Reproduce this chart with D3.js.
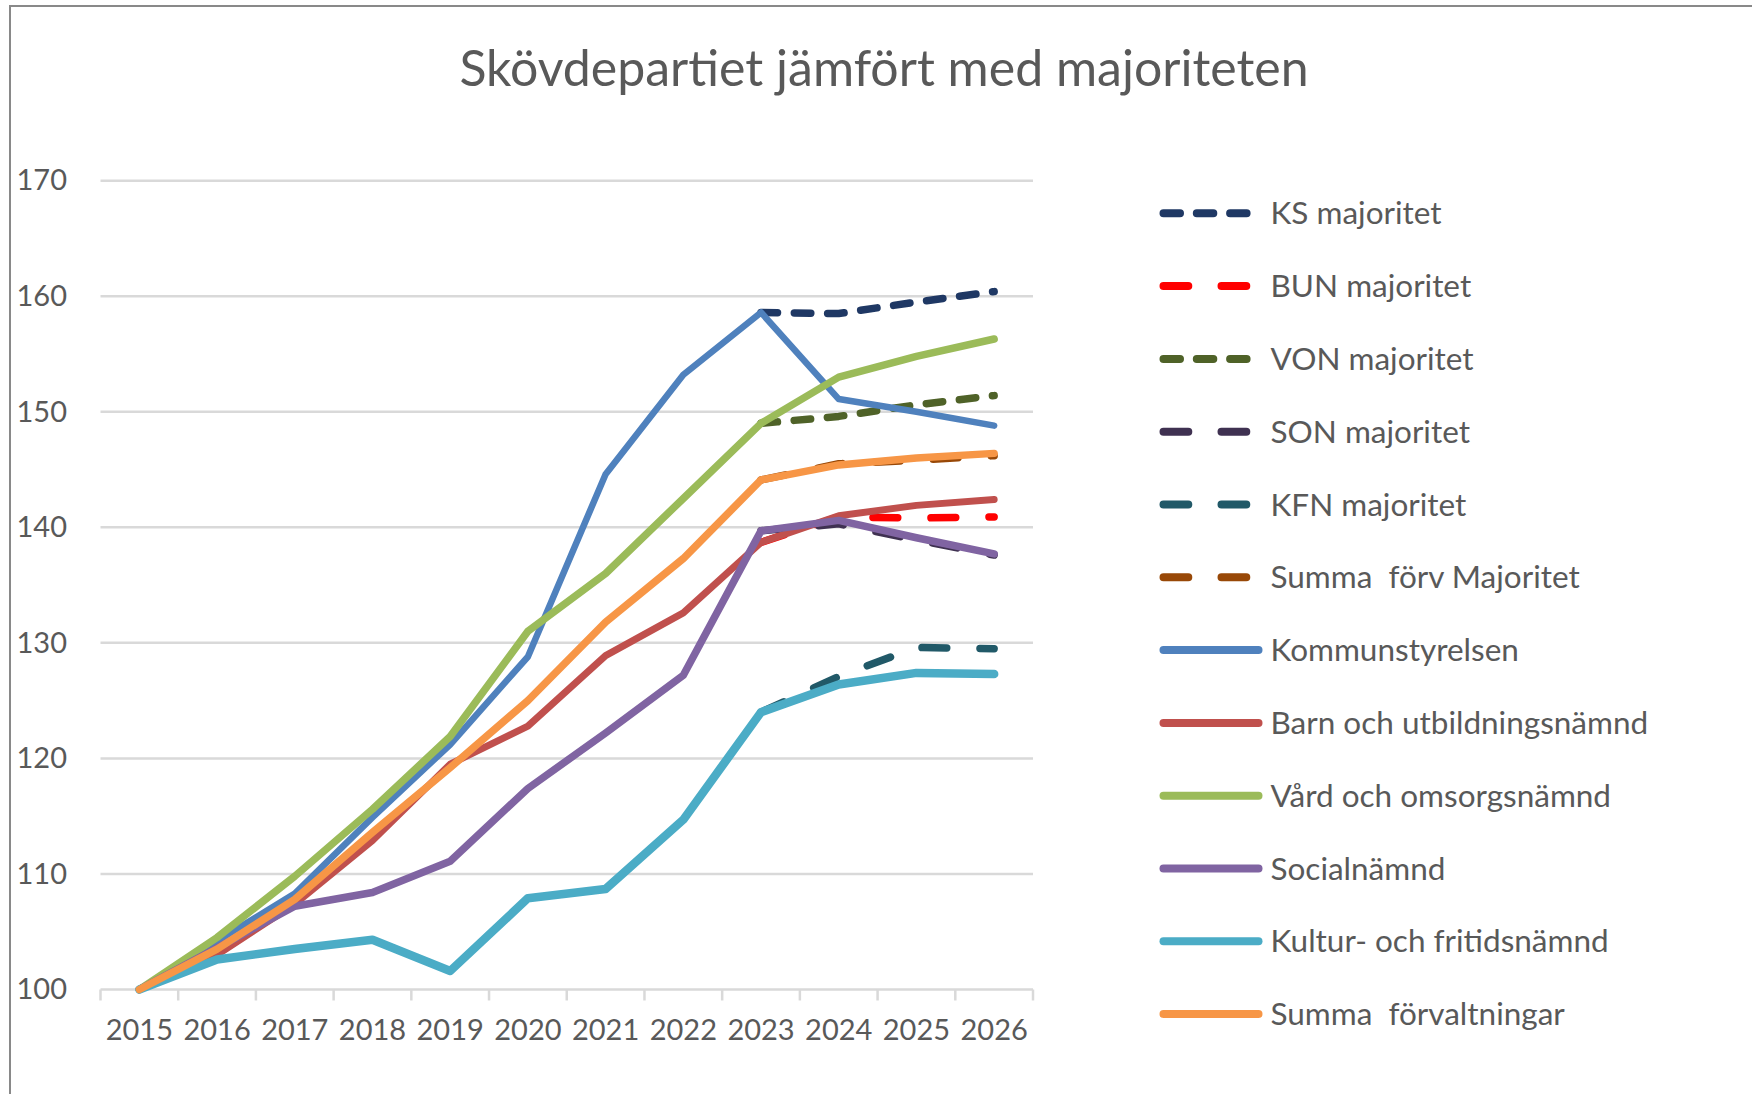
<!DOCTYPE html>
<html>
<head>
<meta charset="utf-8">
<script src="https://cdn.jsdelivr.net/npm/d3@7"></script>
<style>
    body { margin: 0; background: #fff; }
    svg { display: block; font-family: Lato, 'Open Sans', sans-serif; }
</style>
</head>
<body>
<svg id="chart" width="1752" height="1094"></svg>
<script>
// Categories and tick labels
const years = ['2015', '2016', '2017', '2018', '2019', '2020', '2021', '2022', '2023', '2024', '2025', '2026'];
const yTicks = [100, 110, 120, 130, 140, 150, 160, 170];

// Actual values (index, 2015 = 100)
const kommunstyrelsen = [100, 104.2, 108.3, 114.9, 121.2, 128.8, 144.6, 153.2, 158.6, 151.1, 150.0, 148.8];
const barnUtbildning  = [100, 103.0, 107.4, 112.9, 119.5, 122.8, 128.9, 132.6, 138.7, 141.0, 141.9, 142.4];
const vardOmsorg      = [100, 104.5, 109.8, 115.6, 121.9, 131.0, 136.0, 142.5, 149.0, 153.0, 154.8, 156.3];
const socialnamnd     = [100, 103.6, 107.2, 108.4, 111.1, 117.4, 122.2, 127.2, 139.7, 140.6, 139.1, 137.7];
const kulturFritid    = [100, 102.6, 103.5, 104.3, 101.6, 107.9, 108.7, 114.7, 124.0, 126.4, 127.4, 127.3];
const summaForv       = [100, 103.5, 107.8, 113.6, 119.2, 125.0, 131.8, 137.3, 144.1, 145.4, 146.0, 146.4];

// Majority proposals, 2023 - 2026
const majYears   = ['2023', '2024', '2025', '2026'];
const ksMaj      = [158.6, 158.5, 159.5, 160.4];
const bunMaj     = [138.7, 140.9, 140.8, 140.9];
const vonMaj     = [149.0, 149.6, 150.6, 151.4];
const sonMaj     = [139.7, 140.3, 138.9, 137.6];
const kfnMaj     = [124.0, 127.1, 129.6, 129.5];
const summaMaj   = [144.1, 145.5, 145.8, 146.2];

// dash styles: short dash and long dash (visible lengths tuned for round caps)
const shortDash = '16.5,16.8';
const longDash  = '24.8,33.2';

// Series list in Excel draw order (dashed first, solid on top)
const series = [
    { name: 'KS majoritet',          x: majYears, values: ksMaj,    color: '#1F3864', width: 7.5, dash: shortDash },
    { name: 'BUN majoritet',         x: majYears, values: bunMaj,   color: '#FF0000', width: 7.5, dash: longDash },
    { name: 'VON majoritet',         x: majYears, values: vonMaj,   color: '#4F6228', width: 7.5, dash: shortDash },
    { name: 'SON majoritet',         x: majYears, values: sonMaj,   color: '#3F3151', width: 7.5, dash: longDash },
    { name: 'KFN majoritet',         x: majYears, values: kfnMaj,   color: '#215968', width: 7.5, dash: longDash },
    { name: 'Summa  förv Majoritet', x: majYears, values: summaMaj, color: '#984807', width: 7.5, dash: longDash },
    { name: 'Kommunstyrelsen',             x: years, values: kommunstyrelsen, color: '#4F81BD', width: 6.5, dash: null },
    { name: 'Barn och utbildningsnämnd',   x: years, values: barnUtbildning,  color: '#C0504D', width: 7,   dash: null },
    { name: 'Vård och omsorgsnämnd',       x: years, values: vardOmsorg,      color: '#9BBB59', width: 7.5, dash: null },
    { name: 'Socialnämnd',                 x: years, values: socialnamnd,     color: '#8064A2', width: 7.5, dash: null },
    { name: 'Kultur- och fritidsnämnd',    x: years, values: kulturFritid,    color: '#4BACC6', width: 8.5, dash: null },
    { name: 'Summa  förvaltningar',        x: years, values: summaForv,       color: '#F79646', width: 7.5, dash: null }
];

const svg = d3.select('#chart');
const textColor = '#595959';
const gridColor = '#D9D9D9';

// Outer chart frame (runs off the right and bottom edge)
svg.append('rect')
    .attr('x', 10).attr('y', 6)
    .attr('width', 1800).attr('height', 1200)
    .attr('fill', 'none')
    .attr('stroke', '#898989')
    .attr('stroke-width', 2);

// Title
svg.append('text')
    .attr('x', 884).attr('y', 86)
    .attr('text-anchor', 'middle')
    .attr('fill', textColor)
    .attr('font-size', 50)
    .text('Skövdepartiet jämfört med majoriteten');

// Scales
const x = d3.scaleBand().domain(years).range([100.5, 1033]);
const cx = d => x(d) + x.bandwidth() / 2;
const y = d3.scaleLinear().domain([100, 170]).range([989.5, 180.7]);

// Horizontal gridlines
svg.append('g')
    .selectAll('line')
    .data(yTicks)
    .join('line')
    .attr('x1', 100.5).attr('x2', 1033)
    .attr('y1', d => y(d)).attr('y2', d => y(d))
    .attr('stroke', gridColor)
    .attr('stroke-width', 2.5);

// Y axis labels
const yAxis = svg.append('g')
    .attr('transform', 'translate(67,0)')
    .call(d3.axisLeft(y).tickValues(yTicks).tickSize(0).tickPadding(0));
yAxis.select('.domain').remove();
yAxis.selectAll('text')
    .attr('fill', textColor)
    .attr('font-size', 29)
    .attr('font-family', 'Lato, sans-serif');

// X axis: tick marks sit between categories, as in Excel
const boundaries = years.map(d => x(d)).concat([x(years[years.length - 1]) + x.bandwidth()]);
svg.append('g')
    .selectAll('line')
    .data(boundaries)
    .join('line')
    .attr('x1', d => d).attr('x2', d => d)
    .attr('y1', y(100)).attr('y2', y(100) + 11)
    .attr('stroke', gridColor)
    .attr('stroke-width', 2.5);

const xAxis = svg.append('g')
    .attr('transform', `translate(0,${y(100)})`)
    .call(d3.axisBottom(x).tickSize(0).tickPadding(30));
xAxis.select('.domain').remove();
xAxis.selectAll('text')
    .attr('fill', textColor)
    .attr('font-size', 29)
    .attr('font-family', 'Lato, sans-serif');

// Lines
const line = d3.line()
    .x(d => cx(d[0]))
    .y(d => y(d[1]));

svg.append('g')
    .selectAll('path')
    .data(series)
    .join('path')
    .attr('d', s => line(s.x.map((yr, i) => [yr, s.values[i]])))
    .attr('fill', 'none')
    .attr('stroke', s => s.color)
    .attr('stroke-width', s => s.width)
    .attr('stroke-linejoin', 'round')
    .attr('stroke-linecap', 'round')
    .attr('stroke-dasharray', s => s.dash);

// Legend
const legendTop = 213.3;
const legendStep = 72.8;
const legend = svg.append('g')
    .selectAll('g')
    .data(series)
    .join('g')
    .attr('transform', (s, i) => `translate(0,${legendTop + i * legendStep})`);

legend.append('line')
    .attr('x1', 1163.5)
    .attr('x2', s => s.dash ? 1259 : 1258.5)
    .attr('y1', 0).attr('y2', 0)
    .attr('stroke', s => s.color)
    .attr('stroke-width', 8)
    .attr('stroke-linecap', 'round')
    .attr('stroke-dasharray', s => s.dash);

legend.append('text')
    .attr('x', 1270.5)
    .attr('y', 0)
    .attr('dy', '0.35em')
    .attr('fill', textColor)
    .attr('font-size', 31.5)
    .style('white-space', 'pre')
    .text(s => s.name);
</script>
</body>
</html>
